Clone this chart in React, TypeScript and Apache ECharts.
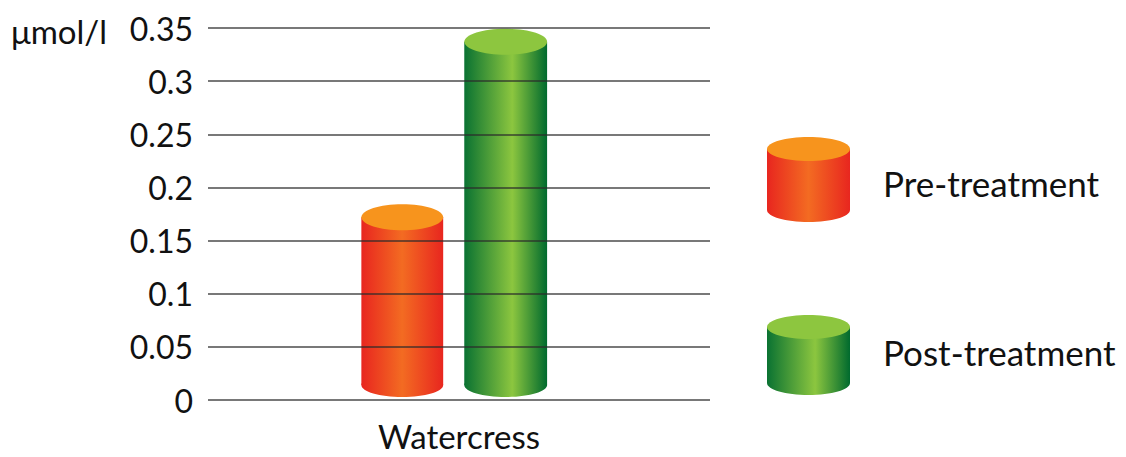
import React, { useEffect, useRef } from "react";
import * as echarts from "echarts";

const categories = ["Watercress"];
const preTreatment = [0.172];
const postTreatment = [0.337];
const seriesNames = ["Pre-treatment", "Post-treatment"];
const yUnit = "μmol/l";

const FONT = "Lato, 'Open Sans', sans-serif";

const redStops = [
  { offset: 0, color: "#e8261f" },
  { offset: 0.5, color: "#f36b22" },
  { offset: 1, color: "#e8261f" },
];
const greenStops = [
  { offset: 0, color: "#0a7232" },
  { offset: 0.58, color: "#8cc63f" },
  { offset: 1, color: "#006a2e" },
];
const redTop = "#f7941d";
const greenTop = "#8dc63f";

function grad(stops: any[]) {
  return new echarts.graphic.LinearGradient(0, 0, 1, 0, stops);
}

function cylinderRender(offsetFrac: number, widthFrac: number, stops: any[], topColor: string) {
  return (params: any, api: any) => {
    const idx = api.value(0);
    const val = api.value(1);
    const top = api.coord([idx, val]);
    const base = api.coord([idx, 0]);
    const band = api.size([1, 0])[0];
    const cx = top[0] + offsetFrac * band;
    const w = widthFrac * band;
    const rx = w / 2;
    const yTop = top[1];
    const yBot = base[1] - 15;
    return {
      type: "group",
      children: [
        { type: "ellipse", shape: { cx, cy: yBot, rx, ry: 12 }, style: { fill: grad(stops) } },
        { type: "rect", shape: { x: cx - rx, y: yTop, width: w, height: yBot - yTop }, style: { fill: grad(stops) } },
        { type: "ellipse", shape: { cx, cy: yTop, rx, ry: 13 }, style: { fill: topColor } },
      ],
    };
  };
}

function legendCylinder(x: number, yTop: number, yBot: number, stops: any[], topColor: string) {
  const w = 83;
  const rx = w / 2;
  const cx = x + rx;
  return {
    type: "group",
    children: [
      { type: "ellipse", shape: { cx, cy: yBot, rx, ry: 12 }, style: { fill: grad(stops) } },
      { type: "rect", shape: { x, y: yTop, width: w, height: yBot - yTop }, style: { fill: grad(stops) } },
      { type: "ellipse", shape: { cx, cy: yTop, rx, ry: 12 }, style: { fill: topColor } },
    ],
  };
}

export default function App() {
  const ref = useRef<HTMLDivElement>(null);
  useEffect(() => {
    if (!ref.current) return;
    const chart = echarts.init(ref.current, undefined, { renderer: "svg" });
    chart.setOption({
      animation: false,
      backgroundColor: "#ffffff",
      grid: { left: 208, right: 416, top: 28, bottom: 57 },
      xAxis: {
        type: "category",
        data: categories,
        axisLine: { show: false },
        axisTick: { show: false },
        axisLabel: { fontSize: 33, lineHeight: 33, fontFamily: FONT, color: "#111", margin: 19 },
      },
      yAxis: {
        type: "value",
        min: 0,
        max: 0.35,
        interval: 0.05,
        z: 5,
        axisLine: { show: false },
        axisTick: { show: false },
        axisLabel: { fontSize: 32, fontFamily: FONT, color: "#111", margin: 15 },
        splitLine: { lineStyle: { color: "#2a2a2a", width: 1.5, opacity: 0.85 } },
      },
      series: [
        {
          type: "custom",
          name: seriesNames[0],
          encode: { x: 0, y: 1 },
          data: preTreatment.map((v, i) => [i, v]),
          renderItem: cylinderRender(-0.113, 0.163, redStops, redTop),
        },
        {
          type: "custom",
          name: seriesNames[1],
          encode: { x: 0, y: 1 },
          data: postTreatment.map((v, i) => [i, v]),
          renderItem: cylinderRender(0.093, 0.165, greenStops, greenTop),
        },
      ],
      graphic: [
        {
          type: "text",
          x: 11,
          y: 31,
          style: { text: yUnit, fontSize: 33, fontFamily: FONT, fill: "#111", verticalAlign: "middle" },
        },
        legendCylinder(767, 149, 210, redStops, redTop),
        legendCylinder(767, 327, 383, greenStops, greenTop),
        {
          type: "text",
          x: 883,
          y: 183,
          style: { text: seriesNames[0], fontSize: 35, fontFamily: FONT, fill: "#111", verticalAlign: "middle" },
        },
        {
          type: "text",
          x: 883,
          y: 352,
          style: { text: seriesNames[1], fontSize: 35, fontFamily: FONT, fill: "#111", verticalAlign: "middle" },
        },
      ],
    });
    return () => chart.dispose();
  }, []);
  return <div ref={ref} style={{ position: "fixed", left: 0, top: 0, width: 1126, height: 457 }} />;
}
